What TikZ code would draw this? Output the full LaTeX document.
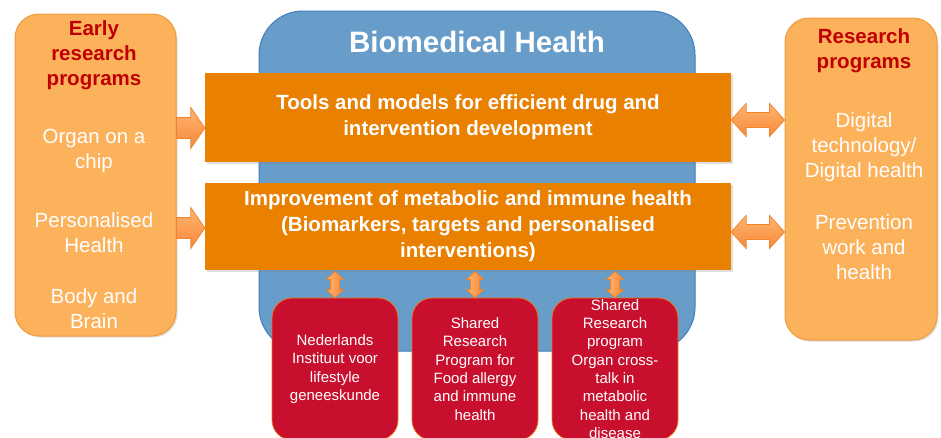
\documentclass[tikz,border=0pt]{standalone}
\usepackage{fontspec}
\setmainfont{Liberation Sans}
\usetikzlibrary{shadows,calc}
\definecolor{lorange}{HTML}{FCB15B}
\definecolor{lorangeline}{HTML}{F39A3C}
\definecolor{bluefill}{HTML}{689DCA}
\definecolor{blueline}{HTML}{3F7EC0}
\definecolor{orangefill}{HTML}{EA8000}
\definecolor{redfill}{HTML}{C8102E}
\definecolor{redline}{HTML}{E8751A}
\definecolor{darkredtext}{HTML}{C00000}
\definecolor{arrowlight}{HTML}{FFB470}
\definecolor{arrowdark}{HTML}{F6893A}
\definecolor{arrowline}{HTML}{EE852C}
\newcommand\myHarrow[5]{%
  \draw[barrow] let \p1=(#1),\p2=(#2) in
  (\x1,\y1+#5) -- (\x2-#3,\y1+#5) -- (\x2-#3,\y1+#4) -- (\x2,\y1) --
  (\x2-#3,\y1-#4) -- (\x2-#3,\y1-#5) -- (\x1,\y1-#5) -- cycle;}
\newcommand\myHDarrow[5]{%
  \draw[barrow] let \p1=(#1),\p2=(#2) in
  (\x1,\y1) -- (\x1+#3,\y1+#4) -- (\x1+#3,\y1+#5) -- (\x2-#3,\y1+#5) --
  (\x2-#3,\y1+#4) -- (\x2,\y1) -- (\x2-#3,\y1-#4) -- (\x2-#3,\y1-#5) --
  (\x1+#3,\y1-#5) -- (\x1+#3,\y1-#4) -- cycle;}
\newcommand\myVDarrow[5]{%
  \draw[vbarrow] let \p1=(#1),\p2=(#2) in
  (\x1,\y1) -- (\x1+#4,\y1-#3) -- (\x1+#5,\y1-#3) -- (\x1+#5,\y2+#3) --
  (\x1+#4,\y2+#3) -- (\x1,\y2) -- (\x1-#4,\y2+#3) -- (\x1-#5,\y2+#3) --
  (\x1-#5,\y1-#3) -- (\x1-#4,\y1-#3) -- cycle;}
\begin{document}
\begin{tikzpicture}[x=1pt,y=-1pt,
  shd/.style={drop shadow={opacity=0.25,shadow xshift=1.5pt,shadow yshift=-1.5pt}},
  sidebox/.style={draw=lorangeline,line width=1pt,fill=lorange,rounded corners=24pt,inner sep=0pt,shd},
  bluebox/.style={draw=blueline,line width=1pt,fill=bluefill,rounded corners=44pt,inner sep=0pt},
  themebox/.style={fill=orangefill,inner sep=0pt,minimum width=526pt,shd},
  redbox/.style={draw=redline,line width=0.8pt,fill=redfill,rounded corners=20pt,inner sep=0pt,minimum width=126pt,minimum height=142pt},
  headtxt/.style={font=\fontsize{20.5}{25}\selectfont\bfseries,text=darkredtext,align=center,inner sep=0pt},
  sidetxt/.style={font=\fontsize{20.5}{25}\selectfont,text=white,align=center,inner sep=0pt},
  themetxt/.style={font=\fontsize{20.5}{26}\selectfont\bfseries,text=white,align=center,inner sep=0pt},
  redtxt/.style={font=\fontsize{15}{18.3}\selectfont,text=white,align=center,inner sep=0pt},
  barrow/.style={draw=arrowline,line width=0.8pt,top color=arrowlight,bottom color=arrowdark,line join=miter},
  vbarrow/.style={draw=arrowline,line width=0.8pt,left color=arrowlight,right color=arrowdark,line join=miter}]
\clip (0,0) rectangle (941,437);
\useasboundingbox (0,0) rectangle (941,437);
% blue background
\node[bluebox,minimum width=436pt,minimum height=340pt] (blue) at (477,181) {};
\node[font=\fontsize{29.5}{34}\selectfont\bfseries,text=white,inner sep=0pt] (title) at (477,42) {Biomedical Health};
% side boxes
\node[sidebox,minimum width=161pt,minimum height=322pt] (left) at (95.5,175) {};
\node[sidebox,minimum width=152pt,minimum height=322pt] (right) at (861,179) {};
% left texts
\node[headtxt] (lh) at (94,55) {Early\\research\\programs};
\node[sidetxt] (l1) at (94,150.5) {Organ on a\\chip};
\node[sidetxt] (l2) at (94,232.5) {Personalised\\Health};
\node[sidetxt] (l3) at (94,309) {Body and\\Brain};
% right texts
\node[headtxt] (rh) at (864,50.5) {Research\\programs};
\node[sidetxt] (r1t) at (864,147) {Digital\\technology/\\Digital health};
\node[sidetxt] (r2t) at (864,247) {Prevention\\work and\\health};
% theme boxes
\node[themebox,minimum height=89pt] (t1) at (468,117.5) {};
\node[themetxt] (t1t) at (468,117.5) {Tools and models for efficient drug and\\intervention development};
\node[themebox,minimum height=87pt] (t2) at (468,226.5) {};
\node[themetxt] (t2t) at (468,226.5) {Improvement of metabolic and immune health\\(Biomarkers, targets and personalised\\interventions)};
% red boxes
\node[redbox] (red1) at (335,369) {};
\node[redtxt] (red1t) at (335,369) {Nederlands\\Instituut voor\\lifestyle\\geneeskunde};
\node[redbox] (red2) at (475,369) {};
\node[redtxt] (red2t) at (475,369) {Shared\\Research\\Program for\\Food allergy\\and immune\\health};
\node[redbox] (red3) at (615,369) {};
\node[redtxt] (red3t) at (615,369) {Shared\\Research\\program\\Organ cross-\\talk in\\metabolic\\health and\\disease};
% arrow coordinates
\coordinate (la1s) at (left.east |- 0,128);
\coordinate (la1e) at (t1.west |- 0,128);
\coordinate (la2s) at (left.east |- 0,228);
\coordinate (la2e) at (t2.west |- 0,228);
\coordinate (ra1s) at (t1.east |- 0,120);
\coordinate (ra1e) at (right.west |- 0,120);
\coordinate (ra2s) at (t2.east |- 0,232);
\coordinate (ra2e) at (right.west |- 0,232);
\coordinate (va1s) at (red1.north |- 0,271.5);
\coordinate (va1e) at (red1.north);
\coordinate (va2s) at (red2.north |- 0,271.5);
\coordinate (va2e) at (red2.north);
\coordinate (va3s) at (red3.north |- 0,271.5);
\coordinate (va3e) at (red3.north);
% arrows
\myHarrow{la1s}{la1e}{14pt}{20.5pt}{10.5pt}
\myHarrow{la2s}{la2e}{14pt}{20.5pt}{10.5pt}
\myHDarrow{ra1s}{ra1e}{15pt}{16.5pt}{7.5pt}
\myHDarrow{ra2s}{ra2e}{15pt}{16.5pt}{7.5pt}
\myVDarrow{va1s}{va1e}{8pt}{8.5pt}{4.5pt}
\myVDarrow{va2s}{va2e}{8pt}{8.5pt}{4.5pt}
\myVDarrow{va3s}{va3e}{8pt}{8.5pt}{4.5pt}
\end{tikzpicture}
\end{document}
